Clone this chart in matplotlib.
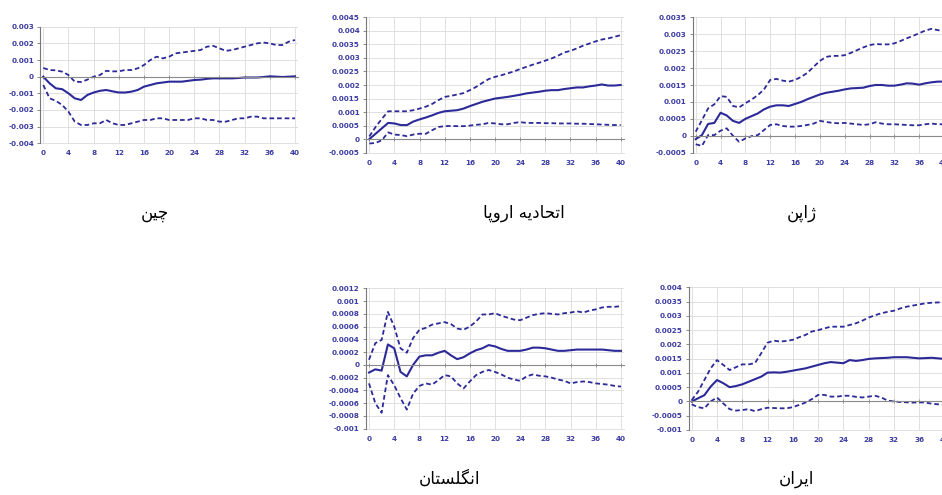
import matplotlib
matplotlib.use('Agg')
from matplotlib import pyplot as plt

periods = list(range(41))
x_ticks = list(range(0, 41, 4))

# impulse responses with upper / lower confidence bands
china_mid = [0, -0.0004, -0.0007, -0.00075, -0.001, -0.0013, -0.0014, -0.0011, -0.00095, -0.00085,
             -0.0008, -0.00088, -0.00095, -0.00095, -0.0009, -0.0008, -0.0006, -0.0005, -0.0004, -0.00035,
             -0.0003, -0.0003, -0.0003, -0.00025, -0.0002, -0.00018, -0.00013, -0.0001, -0.0001, -0.0001,
             -0.0001, -0.00008, -0.00005, -0.00005, -0.00005, -0.00002, 0.00002, 0.0, -0.00002, 0.0,
             0.00002]
china_hi = [0.00052, 0.0004, 0.00038, 0.0003, 0.0001, -0.0003, -0.00032, -0.00018, 0.0, 0.0001,
            0.00035, 0.00032, 0.00032, 0.0004, 0.0004, 0.0005, 0.0007, 0.001, 0.0012, 0.0011,
            0.0012, 0.0014, 0.00145, 0.0015, 0.00155, 0.0016, 0.0018, 0.00185, 0.0017, 0.00155,
            0.0016, 0.0017, 0.0018, 0.0019, 0.002, 0.00205, 0.002, 0.0019, 0.0019, 0.0021,
            0.0022]
china_lo = [-0.0005, -0.0013, -0.00145, -0.0017, -0.0021, -0.0027, -0.0029, -0.0029, -0.0028, -0.0028,
            -0.0026, -0.0028, -0.0029, -0.0029, -0.0028, -0.0027, -0.0026, -0.0026, -0.0025, -0.0025,
            -0.0026, -0.0026, -0.0026, -0.0026, -0.0025, -0.0025, -0.0026, -0.0026, -0.0027, -0.0027,
            -0.0026, -0.0025, -0.0025, -0.0024, -0.0024, -0.0025, -0.0025, -0.0025, -0.0025, -0.0025,
            -0.0025]

eu_mid = [0, 0.0002, 0.0004, 0.0006, 0.00058, 0.00052, 0.00052, 0.00065, 0.00073, 0.0008,
          0.00088, 0.00097, 0.00103, 0.00105, 0.00107, 0.00113, 0.00122, 0.0013, 0.00138, 0.00144,
          0.0015, 0.00153, 0.00156, 0.0016, 0.00164, 0.00169, 0.00172, 0.00175, 0.00179, 0.00181,
          0.00181, 0.00185, 0.00188, 0.00191, 0.00191, 0.00195, 0.00198, 0.00202, 0.00198, 0.00198,
          0.002]
eu_hi = [0.0001, 0.00045, 0.00075, 0.00103, 0.00103, 0.00103, 0.00103, 0.00107, 0.00113, 0.0012,
         0.0013, 0.00144, 0.00156, 0.0016, 0.00165, 0.0017, 0.00181, 0.00193, 0.00208, 0.00222,
         0.0023, 0.00236, 0.00243, 0.0025, 0.00259, 0.00267, 0.00275, 0.00282, 0.0029, 0.00298,
         0.00308, 0.0032, 0.00326, 0.00335, 0.00345, 0.00353, 0.00361, 0.00368, 0.00372, 0.00378,
         0.00384]
eu_lo = [-0.00016, -0.00014, -0.00004, 0.00025, 0.00017, 0.00015, 0.00011, 0.00017, 0.0002, 0.0002,
         0.00033, 0.00045, 0.00048, 0.00049, 0.00048, 0.00048, 0.0005, 0.00053, 0.00055, 0.0006,
         0.00058, 0.00055, 0.00055, 0.0006, 0.00063, 0.0006, 0.0006, 0.0006, 0.00059, 0.00059,
         0.00058, 0.00058, 0.00058, 0.00057, 0.00057, 0.00056, 0.00055, 0.00054, 0.00053, 0.00052,
         0.00052]

japan_mid = [-0.0001, 0.00002, 0.00035, 0.00038, 0.00068, 0.0006, 0.00044, 0.00038, 0.0005, 0.00058,
             0.00066, 0.00078, 0.00086, 0.0009, 0.0009, 0.00088, 0.00094, 0.001, 0.00108, 0.00115,
             0.00122, 0.00127, 0.0013, 0.00133, 0.00137, 0.0014, 0.00141, 0.00142, 0.00147, 0.0015,
             0.0015, 0.00148, 0.00148, 0.00151, 0.00155, 0.00154, 0.00151, 0.00155, 0.00158, 0.0016,
             0.0016]
japan_hi = [0.00012, 0.00046, 0.00081, 0.00093, 0.00117, 0.00115, 0.00088, 0.00084, 0.00096, 0.00107,
            0.0012, 0.00137, 0.00165, 0.00168, 0.00163, 0.0016, 0.00165, 0.00174, 0.00186, 0.00204,
            0.00221, 0.00233, 0.00236, 0.00236, 0.00238, 0.00245, 0.00253, 0.00261, 0.00268, 0.00271,
            0.0027, 0.0027, 0.00273, 0.0028, 0.00288, 0.00295, 0.00303, 0.00311, 0.00316, 0.00312,
            0.0031]
japan_lo = [-0.00025, -0.0003, 0.00002, 0.00002, 0.00015, 0.00022, 0.0, -0.00018, -0.00008, -0.00001,
            0.00002, 0.00017, 0.00032, 0.00034, 0.00029, 0.00027, 0.00027, 0.00029, 0.00032, 0.00036,
            0.00044, 0.00041, 0.00038, 0.00037, 0.00038, 0.00036, 0.00034, 0.00032, 0.00034, 0.0004,
            0.00036, 0.00034, 0.00034, 0.00033, 0.00032, 0.00031, 0.00031, 0.00034, 0.00036, 0.00034,
            0.00034]

uk_mid = [-0.00012, -0.00007, -0.00009, 0.00032, 0.00026, -0.00011, -0.00018, 0.0, 0.00013, 0.00015,
          0.00015, 0.00019, 0.00022, 0.00015, 0.00009, 0.00012, 0.00018, 0.00023, 0.00026, 0.00031,
          0.00029, 0.00025, 0.00022, 0.00022, 0.00022, 0.00024, 0.00027, 0.00027, 0.00026, 0.00024,
          0.00022, 0.00022, 0.00023, 0.00024, 0.00024, 0.00024, 0.00024, 0.00024, 0.00023, 0.00022,
          0.00022]
uk_hi = [0.00008, 0.00034, 0.00039, 0.00083, 0.0006, 0.00026, 0.00019, 0.00042, 0.00055, 0.00058,
         0.00063, 0.00065, 0.00067, 0.00064, 0.00057, 0.00055, 0.0006, 0.00068, 0.00079, 0.00079,
         0.00081, 0.00077, 0.00074, 0.00071, 0.0007, 0.00074, 0.00078, 0.0008, 0.00081, 0.0008,
         0.00079, 0.00081, 0.00082, 0.00084, 0.00082, 0.00085, 0.00087, 0.0009, 0.00091, 0.00091,
         0.00092]
uk_lo = [-0.00029, -0.0006, -0.00075, -0.00016, -0.00032, -0.00052, -0.0007, -0.00045, -0.00033, -0.00029,
         -0.00031, -0.00024, -0.00016, -0.00018, -0.00029, -0.00037, -0.00026, -0.00016, -0.00011, -0.00008,
         -0.00011, -0.00015, -0.0002, -0.00023, -0.00025, -0.00018, -0.00015, -0.00017, -0.00018, -0.0002,
         -0.00023, -0.00025, -0.00029, -0.00027, -0.00026, -0.00027, -0.00029, -0.0003, -0.00031, -0.00033,
         -0.00034]

iran_mid = [0, 0.00011, 0.00022, 0.00052, 0.00075, 0.00064, 0.0005, 0.00054, 0.0006, 0.00069,
            0.00078, 0.00087, 0.00101, 0.00102, 0.00101, 0.00104, 0.00108, 0.00112, 0.00116, 0.00122,
            0.00128, 0.00134, 0.00138, 0.00136, 0.00134, 0.00145, 0.00142, 0.00145, 0.00149, 0.00151,
            0.00152, 0.00153, 0.00155, 0.00155, 0.00155, 0.00153, 0.00151, 0.00152, 0.00153, 0.00151,
            0.00149]
iran_hi = [0.00005, 0.00034, 0.00075, 0.00116, 0.00145, 0.00128, 0.0011, 0.0012, 0.0013, 0.0013,
           0.00134, 0.00169, 0.00206, 0.00213, 0.0021, 0.00212, 0.00216, 0.00225, 0.00233, 0.00245,
           0.0025, 0.00256, 0.00262, 0.00262, 0.00262, 0.00268, 0.00274, 0.00283, 0.00294, 0.00302,
           0.00309, 0.00314, 0.00318, 0.00326, 0.00332, 0.00336, 0.0034, 0.00344, 0.00346, 0.00347,
           0.00347]
iran_lo = [-0.0001, -0.0002, -0.00024, 0.0, 0.00014, -0.00007, -0.00027, -0.00032, -0.0003, -0.00027,
           -0.00034, -0.00027, -0.00022, -0.00023, -0.00024, -0.00024, -0.0002, -0.00012, -0.00004, 0.00008,
           0.00023, 0.00023, 0.00017, 0.00017, 0.0002, 0.0002, 0.00016, 0.00014, 0.00017, 0.0002,
           0.00014, 0.00003, 0.0, -0.00002, -0.00003, -0.00004, -0.00003, -0.00004, -0.00008, -0.0001,
           -0.00011]

china_yticks = [-0.004, -0.003, -0.002, -0.001, 0, 0.001, 0.002, 0.003]
china_ylabels = ['-0.004', '-0.003', '-0.002', '-0.001', '0', '0.001', '0.002', '0.003']
eu_yticks = [-0.0005, 0, 0.0005, 0.001, 0.0015, 0.002, 0.0025, 0.003, 0.0035, 0.004, 0.0045]
eu_ylabels = ['-0.0005', '0', '0.0005', '0.001', '0.0015', '0.002', '0.0025', '0.003', '0.0035',
              '0.004', '0.0045']
japan_yticks = [-0.0005, 0, 0.0005, 0.001, 0.0015, 0.002, 0.0025, 0.003, 0.0035]
japan_ylabels = ['-0.0005', '0', '0.0005', '0.001', '0.0015', '0.002', '0.0025', '0.003', '0.0035']
uk_yticks = [-0.001, -0.0008, -0.0006, -0.0004, -0.0002, 0, 0.0002, 0.0004, 0.0006, 0.0008, 0.001, 0.0012]
uk_ylabels = ['-0.001', '-0.0008', '-0.0006', '-0.0004', '-0.0002', '0', '0.0002', '0.0004', '0.0006',
              '0.0008', '0.001', '0.0012']
iran_yticks = [-0.001, -0.0005, 0, 0.0005, 0.001, 0.0015, 0.002, 0.0025, 0.003, 0.0035, 0.004]
iran_ylabels = ['-0.001', '-0.0005', '0', '0.0005', '0.001', '0.0015', '0.002', '0.0025', '0.003',
                '0.0035', '0.004']

names = ['چین', 'اتحادیه اروپا', 'ژاپن', 'انگلستان', 'ایران']

LINE = '#2c2a98'
TICK = '#3c3ca4'
GRID = '#dadada'

W, H = 942, 495

# isolated, final, initial, medial presentation forms
FORMS = {
    'ا': ('\ufe8d', '\ufe8e', None, None),
    'د': ('\ufea9', '\ufeaa', None, None),
    'ر': ('\ufead', '\ufeae', None, None),
    'ژ': ('\ufb8a', '\ufb8b', None, None),
    'و': ('\ufeed', '\ufeee', None, None),
    'ت': ('\ufe95', '\ufe96', '\ufe97', '\ufe98'),
    'ح': ('\ufea1', '\ufea2', '\ufea3', '\ufea4'),
    'س': ('\ufeb1', '\ufeb2', '\ufeb3', '\ufeb4'),
    'ل': ('\ufedd', '\ufede', '\ufedf', '\ufee0'),
    'ن': ('\ufee5', '\ufee6', '\ufee7', '\ufee8'),
    'ه': ('\ufee9', '\ufeea', '\ufeeb', '\ufeec'),
    'پ': ('\ufb56', '\ufb57', '\ufb58', '\ufb59'),
    'چ': ('\ufb7a', '\ufb7b', '\ufb7c', '\ufb7d'),
    'گ': ('\ufb92', '\ufb93', '\ufb94', '\ufb95'),
    'ی': ('\ufbfc', '\ufbfd', '\ufbfe', '\ufbff'),
}


def shape(word):
    # join letters and put them in display order (no bidi support in Agg)
    out = []
    for i, ch in enumerate(word):
        if ch not in FORMS:
            out.append(ch)
            continue
        prev = word[i - 1] if i > 0 else ''
        nxt = word[i + 1] if i + 1 < len(word) else ''
        iso, fin, ini, med = FORMS[ch]
        join_prev = prev in FORMS and FORMS[prev][2] is not None
        join_next = ini is not None and nxt in FORMS
        if join_prev and join_next:
            out.append(med)
        elif join_prev:
            out.append(fin)
        elif join_next:
            out.append(ini)
        else:
            out.append(iso)
    return ''.join(reversed(out))


def panel(fig, x0, x40, ytop, ybot, ylim, yticks, ylabels, mid, hi, lo):
    # x0/x40: pixel position of periods 0 and 40, ytop/ybot: pixel rows of the y limits
    step = (x40 - x0) / 40
    left = x0 - 0.5 * step
    right = x40 + 0.5 * step
    ax = fig.add_axes([left / W, 1 - ybot / H, (right - left) / W, (ybot - ytop) / H])
    ax.set_xlim(-0.5, 40.5)
    ax.set_ylim(*ylim)

    ax.plot(periods, hi, color=LINE, lw=1.3, dashes=(2.6, 1.6))
    ax.plot(periods, lo, color=LINE, lw=1.3, dashes=(2.6, 1.6))
    ax.plot(periods, mid, color=LINE, lw=1.5)

    ax.set_xticks(x_ticks)
    ax.set_yticks(yticks)
    ax.set_yticklabels(ylabels)
    ax.grid(True, color=GRID, lw=0.6)
    ax.set_axisbelow(True)
    for s in ['top', 'right']:
        ax.spines[s].set_visible(False)
    ax.spines['left'].set_color('#777777')
    ax.spines['left'].set_linewidth(0.8)
    ax.spines['bottom'].set_position(('data', 0))
    ax.spines['bottom'].set_color('#8a8a8a')
    ax.spines['bottom'].set_linewidth(0.8)
    ax.tick_params(axis='y', length=2.5, width=0.6, color='#777777', pad=2,
                   labelsize=5.2, labelcolor=TICK)
    ax.tick_params(axis='x', direction='inout', length=3, width=0.6, color='#8a8a8a',
                   labelbottom=False)
    for t in ax.get_yticklabels():
        t.set_fontweight('bold')

    sec = ax.secondary_xaxis('bottom')
    sec.set_xticks(x_ticks)
    sec.tick_params(length=0, pad=5, labelsize=5.2, labelcolor=TICK)
    sec.spines['bottom'].set_color(GRID)
    sec.spines['bottom'].set_linewidth(0.6)
    for t in sec.get_xticklabels():
        t.set_fontweight('bold')
    return ax


fig = plt.figure(figsize=(W / 100, H / 100), dpi=100)

panel(fig, 43.3, 295, 26.7, 143.3, (-0.004, 0.003), china_yticks, china_ylabels,
      china_mid, china_hi, china_lo)
panel(fig, 369.3, 620.7, 17.3, 152.7, (-0.0005, 0.0045), eu_yticks, eu_ylabels,
      eu_mid, eu_hi, eu_lo)
panel(fig, 695.7, 944, 17.3, 152.7, (-0.0005, 0.0035), japan_yticks, japan_ylabels,
      japan_mid, japan_hi, japan_lo)
panel(fig, 369, 621, 288.3, 428.7, (-0.001, 0.0012), uk_yticks, uk_ylabels,
      uk_mid, uk_hi, uk_lo)
panel(fig, 691.7, 944.5, 287.3, 430, (-0.001, 0.004), iran_yticks, iran_ylabels,
      iran_mid, iran_hi, iran_lo)

caption_pos = [(155, 213), (524, 213), (802, 213), (450, 479), (796, 479)]
for name, (cx, cy) in zip(names, caption_pos):
    fig.text(cx / W, 1 - cy / H, shape(name), ha='center', va='center',
             fontsize=12, family='DejaVu Sans')

fig.savefig('out.png', dpi=100)
